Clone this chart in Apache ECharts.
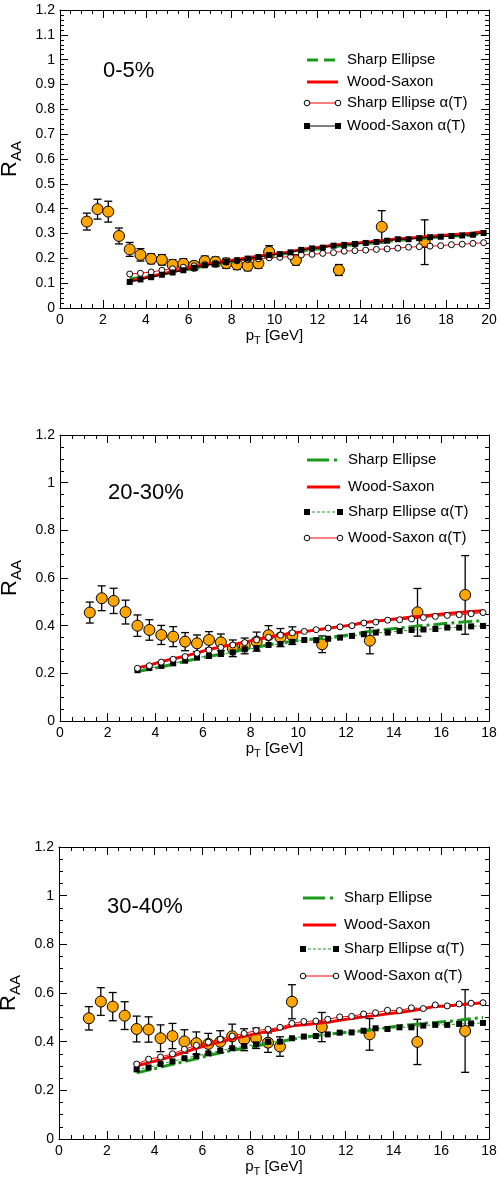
<!DOCTYPE html>
<html><head><meta charset="utf-8">
<script src="https://cdn.jsdelivr.net/npm/echarts@6/dist/echarts.min.js"></script>
<style>html,body{margin:0;padding:0;background:#fff}#c{width:500px;height:1182px}</style>
</head><body><div id="c"></div>
<script>
// ---------- data ----------
const ptData = [1.25,1.75,2.25,2.75,3.25,3.75,4.25,4.75,5.25,5.75,6.25,6.75,7.25,7.75,8.25,8.75,9.25,9.75,11,13,15,17];
const raa1 = [0.348,0.398,0.388,0.290,0.236,0.214,0.198,0.194,0.174,0.178,0.170,0.189,0.186,0.180,0.175,0.170,0.180,0.226,0.193,0.153,0.327,0.265];
const err1 = [0.034,0.040,0.042,0.032,0.028,0.025,0.020,0.021,0.020,0.020,0.017,0.020,0.019,0.020,0.020,0.020,0.020,0.025,0.020,0.022,0.065,0.090];
const raa2 = [0.455,0.515,0.504,0.457,0.400,0.382,0.361,0.354,0.333,0.326,0.340,0.330,0.305,0.315,0.333,0.360,0.350,0.358,0.322,0.337,0.456,0.529];
const err2 = [0.044,0.052,0.053,0.050,0.045,0.043,0.040,0.042,0.038,0.035,0.035,0.035,0.035,0.033,0.040,0.040,0.038,0.037,0.035,0.055,0.100,0.165];
const raa3 = [0.496,0.565,0.544,0.507,0.452,0.450,0.414,0.423,0.401,0.394,0.391,0.400,0.422,0.408,0.414,0.396,0.380,0.564,0.460,0.430,0.399,0.444];
const err3 = [0.048,0.057,0.058,0.057,0.053,0.052,0.055,0.052,0.048,0.046,0.043,0.045,0.050,0.045,0.042,0.040,0.040,0.070,0.060,0.065,0.093,0.170];

const ptModel1 = [3.25,3.75,4.25,4.75,5.25,5.75,6.25,6.75,7.25,7.75,8.25,8.75,9.25,9.75,10.25,10.75,11.25,11.75,12.25,12.75,13.25,13.75,14.25,14.75,15.25,15.75,16.25,16.75,17.25,17.75,18.25,18.75,19.25,19.75];
const se1  = [.118,.122,.128,.136,.144,.152,.160,.169,.176,.183,.190,.197,.203,.210,.215,.222,.230,.236,.240,.247,.251,.255,.259,.263,.268,.273,.275,.279,.283,.286,.289,.291,.294,.298];
const ws1  = [.108,.118,.127,.137,.146,.155,.165,.174,.181,.188,.195,.202,.208,.215,.220,.227,.236,.242,.246,.254,.257,.261,.265,.269,.274,.279,.281,.285,.289,.292,.295,.298,.301,.308];
const seA1 = [.137,.140,.145,.152,.158,.164,.170,.175,.180,.185,.190,.194,.198,.202,.204,.207,.213,.216,.220,.223,.229,.231,.233,.236,.238,.241,.245,.247,.249,.251,.255,.257,.260,.263];
const wsA1 = [.105,.115,.124,.134,.143,.152,.162,.172,.178,.185,.192,.199,.205,.213,.217,.224,.234,.240,.243,.251,.254,.258,.262,.266,.271,.277,.277,.281,.285,.287,.290,.292,.295,.302];

const ptModel23 = [3.25,3.75,4.25,4.75,5.25,5.75,6.25,6.75,7.25,7.75,8.25,8.75,9.25,9.75,10.25,10.75,11.25,11.75,12.25,12.75,13.25,13.75,14.25,14.75,15.25,15.75,16.25,16.75,17.25,17.75];
const se2  = [.208,.217,.227,.238,.250,.262,.271,.280,.290,.300,.310,.320,.327,.335,.341,.345,.350,.356,.363,.372,.380,.385,.390,.396,.401,.405,.410,.414,.418,.421];
const ws2  = [.223,.234,.249,.261,.272,.286,.300,.311,.321,.331,.342,.352,.361,.369,.375,.382,.389,.396,.403,.413,.419,.425,.430,.436,.441,.446,.451,.455,.459,.463];
const seA2 = [.213,.222,.231,.242,.253,.266,.273,.281,.288,.301,.306,.319,.323,.332,.340,.339,.345,.350,.357,.364,.371,.371,.378,.382,.384,.386,.392,.392,.397,.399];
const wsA2 = [.221,.232,.247,.259,.270,.284,.298,.309,.319,.329,.340,.351,.360,.370,.376,.383,.390,.395,.400,.411,.415,.423,.425,.428,.434,.439,.443,.446,.450,.455];

const se3  = [.272,.283,.295,.307,.318,.330,.343,.354,.364,.373,.382,.392,.400,.410,.418,.424,.430,.436,.441,.445,.450,.458,.465,.470,.475,.479,.483,.488,.494,.499];
const ws3  = [.300,.314,.326,.340,.357,.373,.387,.399,.411,.422,.433,.442,.451,.465,.470,.475,.480,.488,.495,.502,.507,.515,.520,.527,.535,.545,.547,.552,.556,.560];
const seA3 = [.286,.294,.308,.319,.332,.341,.352,.363,.373,.382,.389,.400,.400,.414,.421,.423,.430,.437,.438,.445,.455,.452,.459,.459,.466,.469,.469,.473,.475,.477];
const wsA3 = [.308,.328,.337,.350,.369,.385,.398,.410,.423,.434,.446,.451,.459,.475,.483,.485,.492,.502,.504,.514,.519,.529,.528,.539,.536,.551,.547,.555,.558,.560];

const centLabels = ['0-5%','20-30%','30-40%'];
const xMax = [20,18,18];
const yInterval = [0.1,0.2,0.2];
const yMinorSplit = [5,4,4];

// ---------- layout ----------
const FONT = '"Liberation Sans", Arial, Helvetica, sans-serif';
const grids = [
  {left:60, top:10, width:429, height:298},
  {left:60, top:435, width:429, height:286},
  {left:59, top:847, width:430, height:292}
];

const xAxes = [], yAxes = [];
grids.forEach((g, i) => {
  const common = {
    type:'value', gridIndex:i, min:0, max:xMax[i], interval:2,
    axisLine:{show:true, onZero:false, lineStyle:{color:'#000', width:1}},
    axisTick:{show:true, inside:true, length:8, lineStyle:{color:'#000', width:1}},
    minorTick:{show:true, splitNumber:4, length:4, lineStyle:{color:'#000', width:1}},
    splitLine:{show:false}, minorSplitLine:{show:false}
  };
  xAxes.push(Object.assign({}, common, {
    position:'bottom',
    axisLabel:{show:true, margin:5, color:'#000', fontSize:14, fontFamily:FONT, showMinLabel:true, showMaxLabel:true},
    name:'{p|p}{s|T}{p| [GeV]}', nameLocation:'middle', nameGap:20,
    nameTextStyle:{color:'#000', fontFamily:FONT, rich:{
      p:{fontSize:15, fontFamily:FONT, color:'#000', verticalAlign:'top'},
      s:{fontSize:11, fontFamily:FONT, color:'#000', verticalAlign:'bottom', padding:[7,0,0,0]}
    }}
  }));
  xAxes.push(Object.assign({}, common, {position:'top', axisLabel:{show:false}}));
  const ycommon = {
    type:'value', gridIndex:i, min:0, max:1.2, interval:yInterval[i],
    axisLine:{show:true, onZero:false, lineStyle:{color:'#000', width:1}},
    axisTick:{show:true, inside:true, length:8, lineStyle:{color:'#000', width:1}},
    minorTick:{show:true, splitNumber:yMinorSplit[i], length:4, lineStyle:{color:'#000', width:1}},
    splitLine:{show:false}, minorSplitLine:{show:false}
  };
  yAxes.push(Object.assign({}, ycommon, {
    position:'left',
    axisLabel:{show:true, margin:5, color:'#000', fontSize:14, fontFamily:FONT, showMinLabel:true, showMaxLabel:true},
    name:'{r|R}{s|AA}', nameLocation:'middle', nameGap:27, nameRotate:90,
    nameTextStyle:{color:'#000', fontFamily:FONT, rich:{
      r:{fontSize:22, fontFamily:FONT, color:'#000', verticalAlign:'top'},
      s:{fontSize:15, fontFamily:FONT, color:'#000', verticalAlign:'bottom', padding:[11,0,0,0]}
    }}
  }));
  yAxes.push(Object.assign({}, ycommon, {position:'right', axisLabel:{show:false}}));
});

// ---------- series helpers ----------
function pairs(xs, ys){ return xs.map((x,k)=>[x, ys[k]]); }
function triples(xs, ys, es){ return xs.map((x,k)=>[x, ys[k], es[k]]); }

function errSeries(i, xs, ys, es){
  return {
    type:'custom', xAxisIndex:2*i, yAxisIndex:2*i, z:2, silent:true,
    data: triples(xs, ys, es),
    renderItem:function(params, api){
      const x = api.value(0), y = api.value(1), e = api.value(2);
      const t = api.coord([x, y+e]), b = api.coord([x, y-e]);
      const c = 4;
      const st = {stroke:'#000', lineWidth:1.3};
      return {type:'group', children:[
        {type:'line', shape:{x1:t[0], y1:t[1], x2:b[0], y2:b[1]}, style:st},
        {type:'line', shape:{x1:t[0]-c, y1:t[1], x2:t[0]+c, y2:t[1]}, style:st},
        {type:'line', shape:{x1:b[0]-c, y1:b[1], x2:b[0]+c, y2:b[1]}, style:st}
      ]};
    }
  };
}
function dataSeries(i, xs, ys){
  return {type:'scatter', xAxisIndex:2*i, yAxisIndex:2*i, z:3, silent:true,
    symbol:'circle', symbolSize:11,
    itemStyle:{color:'#FFA500', borderColor:'#000', borderWidth:1, opacity:1},
    data: pairs(xs, ys)};
}
function thickLine(i, xs, ys, color, dash, z){
  return {type:'line', xAxisIndex:2*i, yAxisIndex:2*i, z:z, silent:true, symbol:'none',
    lineStyle:{color:color, width:3, type:dash||'solid'}, data:pairs(xs, ys)};
}
function markLine(i, xs, ys, lineColor, dash, marker, z){
  const s = {type:'line', xAxisIndex:2*i, yAxisIndex:2*i, z:z, silent:true,
    showSymbol:true, showAllSymbol:true,
    lineStyle:{color:lineColor, width:1, type:dash||'solid'}, data:pairs(xs, ys)};
  if (marker === 'circle'){
    s.symbol = 'circle'; s.symbolSize = 6;
    s.itemStyle = {color:'#fff', borderColor:'#000', borderWidth:1};
  } else {
    s.symbol = 'rect'; s.symbolSize = 6;
    s.itemStyle = {color:'#000', borderWidth:0};
  }
  return s;
}

const DASH1 = [11,6];
const DASH23 = [14,4,3,4];

const series = [
  errSeries(0, ptData, raa1, err1), dataSeries(0, ptData, raa1),
  thickLine(0, ptModel1, se1, '#1a9a1a', DASH1, 4),
  thickLine(0, ptModel1, ws1, '#ff0000', null, 5),
  markLine(0, ptModel1, seA1, '#ff0000', null, 'circle', 6),
  markLine(0, ptModel1, wsA1, '#000', null, 'rect', 7),

  errSeries(1, ptData, raa2, err2), dataSeries(1, ptData, raa2),
  thickLine(1, ptModel23, se2, '#1a9a1a', DASH23, 4),
  thickLine(1, ptModel23, ws2, '#ff0000', null, 5),
  markLine(1, ptModel23, seA2, '#1a9a1a', [3,2], 'rect', 6),
  markLine(1, ptModel23, wsA2, '#ff0000', null, 'circle', 7),

  errSeries(2, ptData, raa3, err3), dataSeries(2, ptData, raa3),
  thickLine(2, ptModel23, se3, '#1a9a1a', DASH23, 4),
  thickLine(2, ptModel23, ws3, '#ff0000', null, 5),
  markLine(2, ptModel23, seA3, '#1a9a1a', [3,2], 'rect', 6),
  markLine(2, ptModel23, wsA3, '#ff0000', null, 'circle', 7)
];

// ---------- legends & labels (graphic) ----------
const legendNames = ['Sharp Ellipse','Wood-Saxon','Sharp Ellipse \u03b1(T)','Wood-Saxon \u03b1(T)'];

const legendLayouts = [
  {x1:307, x2:338, tx:347, ys:[60,82,103,126]},
  {x1:307, x2:340, tx:348, ys:[460,487,512,538]},
  {x1:303, x2:336, tx:344, ys:[898,925,949,976]}
];
const legendStyles = [
  [ {color:'#1a9a1a', width:3, dash:DASH1}, {color:'#ff0000', width:3}, {color:'#ff0000', width:1, marker:'circle'}, {color:'#000', width:1, marker:'rect'} ],
  [ {color:'#1a9a1a', width:3, dash:[22,5,3,5]}, {color:'#ff0000', width:3}, {color:'#1a9a1a', width:1, dash:[3,2], marker:'rect'}, {color:'#ff0000', width:1, marker:'circle'} ],
  [ {color:'#1a9a1a', width:3, dash:[22,5,3,5]}, {color:'#ff0000', width:3}, {color:'#1a9a1a', width:1, dash:[3,2], marker:'rect'}, {color:'#ff0000', width:1, marker:'circle'} ]
];
const centPos = [{x:103, y:71}, {x:108, y:493}, {x:107, y:907}];

const graphics = [];
function mk(type, x, y){
  if (type === 'circle') return {type:'circle', shape:{cx:x, cy:y, r:2.8}, style:{fill:'#fff', stroke:'#000', lineWidth:1}, z:20};
  return {type:'rect', shape:{x:x-3, y:y-3, width:6, height:6}, style:{fill:'#000'}, z:20};
}
legendLayouts.forEach((L, p) => {
  legendStyles[p].forEach((s, k) => {
    const y = L.ys[k];
    graphics.push({type:'line', shape:{x1:L.x1, y1:y, x2:L.x2, y2:y}, style:{stroke:s.color, lineWidth:s.width, lineDash:s.dash||null}, z:19});
    if (s.marker){ graphics.push(mk(s.marker, L.x1, y)); graphics.push(mk(s.marker, L.x2, y)); }
    graphics.push({type:'text', x:L.tx, y:y, style:{text:legendNames[k], fontSize:15, fontFamily:FONT, fill:'#000', verticalAlign:'middle', align:'left'}, z:20});
  });
  graphics.push({type:'text', x:centPos[p].x, y:centPos[p].y, style:{text:centLabels[p], fontSize:22, fontFamily:FONT, fill:'#000', verticalAlign:'middle', align:'left'}, z:20});
});

const chart = echarts.init(document.getElementById('c'), null, {renderer:'canvas'});
chart.setOption({
  animation:false,
  backgroundColor:'#fff',
  grid: grids.map(g => Object.assign({containLabel:false, outerBoundsMode:'none'}, g)),
  xAxis: xAxes, yAxis: yAxes,
  series: series,
  graphic: graphics
});
</script></body></html>
